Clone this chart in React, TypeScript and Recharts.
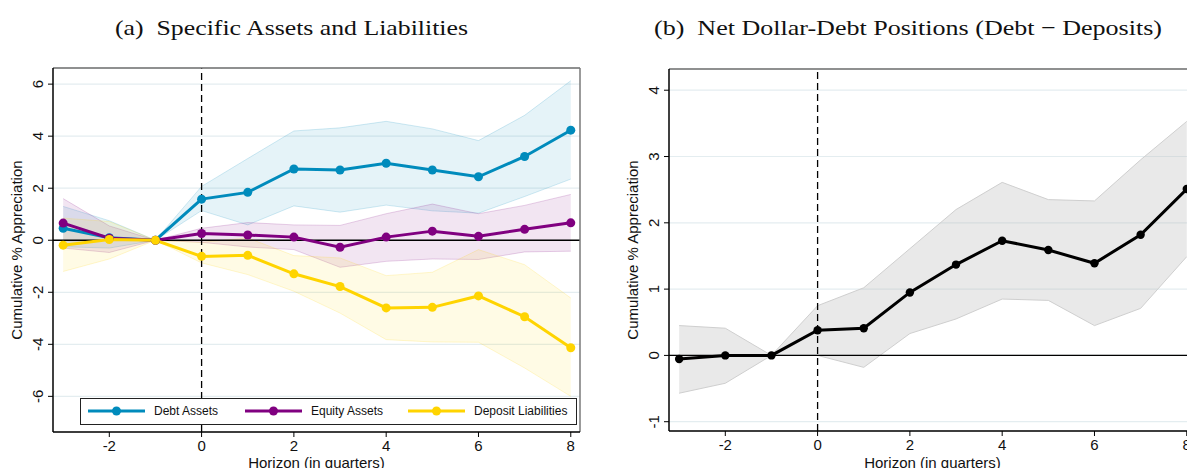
import {
  ComposedChart,
  Line,
  Area,
  XAxis,
  YAxis,
  CartesianGrid,
  ReferenceLine,
  Legend,
  Label,
} from "recharts";

// horizon in quarters, shared by both panels
const horizon = [-3, -2, -1, 0, 1, 2, 3, 4, 5, 6, 7, 8];

// panel (a): point estimates and 90% bands
const debtAssets = [0.46, 0.1, 0, 1.58, 1.84, 2.74, 2.7, 2.96, 2.7, 2.44, 3.22, 4.23];
const debtLo = [-0.25, -0.3, 0, 1.14, 0.59, 1.32, 1.08, 1.35, 1.13, 1.04, 1.68, 2.35];
const debtHi = [1.3, 0.75, 0, 2.07, 3.14, 4.2, 4.32, 4.57, 4.28, 3.83, 4.8, 6.13];

const equityAssets = [0.66, 0.08, 0, 0.26, 0.2, 0.12, -0.27, 0.12, 0.35, 0.15, 0.42, 0.67];
const equityLo = [-0.3, -0.47, 0, -0.08, -0.26, -0.36, -1.04, -0.81, -0.72, -0.74, -0.45, -0.42];
const equityHi = [1.6, 0.55, 0, 0.46, 0.68, 0.59, 0.57, 1.02, 1.39, 1.02, 1.34, 1.76];

const depositLiab = [-0.19, 0.03, 0, -0.62, -0.58, -1.29, -1.78, -2.6, -2.58, -2.14, -2.94, -4.13];
const depositLo = [-1.2, -0.72, 0, -0.87, -1.32, -1.96, -2.8, -3.82, -3.91, -3.92, -4.91, -6.0];
const depositHi = [0.85, 0.72, 0, -0.08, 0.09, -0.59, -0.68, -1.36, -1.23, -0.36, -0.94, -2.22];

// panel (b): net dollar-debt position
const netDebt = [-0.055, 0, 0, 0.38, 0.41, 0.95, 1.37, 1.73, 1.59, 1.39, 1.82, 2.51];
const netLo = [-0.57, -0.42, 0, 0.0, -0.18, 0.33, 0.55, 0.85, 0.83, 0.45, 0.71, 1.49];
const netHi = [0.45, 0.41, 0, 0.75, 1.02, 1.61, 2.2, 2.61, 2.35, 2.33, 2.95, 3.53];

const xTicks = [-2, 0, 2, 4, 6, 8];
const yTicksA = [-6, -4, -2, 0, 2, 4, 6];
const yTicksB = [-1, 0, 1, 2, 3, 4];

const X_DOMAIN: [number, number] = [-3.22, 8.2];
const Y_DOMAIN_A: [number, number] = [-7.37, 6.62];
const Y_DOMAIN_B: [number, number] = [-1.14, 4.32];

const SANS = "'Liberation Sans', Arial, sans-serif";
const SERIF = "'Liberation Serif', 'Times New Roman', serif";

const SERIES_A = [
  { key: "debt", name: "Debt Assets", color: "#008bbc" },
  { key: "equity", name: "Equity Assets", color: "#800080" },
  { key: "deposit", name: "Deposit Liabilities", color: "#ffd400" },
];

const dataA = horizon.map((h, i) => ({
  h,
  debt: debtAssets[i],
  debtBand: [debtLo[i], debtHi[i]],
  equity: equityAssets[i],
  equityBand: [equityLo[i], equityHi[i]],
  deposit: depositLiab[i],
  depositBand: [depositLo[i], depositHi[i]],
}));

const dataB = horizon.map((h, i) => ({
  h,
  net: netDebt[i],
  netBand: [netLo[i], netHi[i]],
}));

// stata-style y tick labels, turned on their side
function RotTick(props: any) {
  const { x, y, payload } = props;
  return (
    <text
      x={x}
      y={y}
      transform={`rotate(-90 ${x} ${y})`}
      textAnchor="middle"
      fontSize={15}
      fontFamily={SANS}
      fill="#111"
    >
      {payload.value}
    </text>
  );
}

function YTitle(props: any) {
  const { viewBox, value } = props;
  const x = viewBox.x + 22;
  const y = viewBox.y + viewBox.height / 2;
  return (
    <text
      x={x}
      y={y}
      transform={`rotate(-90 ${x} ${y})`}
      textAnchor="middle"
      fontSize={15}
      fontFamily={SANS}
      fill="#111"
    >
      {value}
    </text>
  );
}

function LegendBox() {
  const starts = [7, 164, 327];
  return (
    <div
      style={{
        position: "relative",
        width: 497,
        height: 27,
        boxSizing: "border-box",
        border: "1.5px solid #222",
        background: "#fff",
        fontFamily: SANS,
        fontSize: 12,
        color: "#111",
      }}
    >
      {SERIES_A.map((s, i) => (
        <div
          key={s.key}
          style={{
            position: "absolute",
            left: starts[i],
            top: 0,
            height: 24,
            display: "flex",
            alignItems: "center",
            whiteSpace: "nowrap",
          }}
        >
          <svg width={57} height={12} style={{ marginRight: 9 }}>
            <line x1={0} y1={6} x2={57} y2={6} stroke={s.color} strokeWidth={3} />
            <circle cx={28.5} cy={6} r={4.5} fill={s.color} />
          </svg>
          <span>{s.name}</span>
        </div>
      ))}
    </div>
  );
}

const axisProps = {
  axisLine: { stroke: "#000", strokeWidth: 1.5 },
  tickLine: { stroke: "#000", strokeWidth: 1 },
  tickSize: 5,
  interval: 0 as const,
  allowDataOverflow: true,
};

function PanelA() {
  return (
    <ComposedChart
      width={600}
      height={468}
      data={dataA}
      margin={{ top: 68, right: 20, bottom: 0, left: 0 }}
    >
      <CartesianGrid vertical={false} stroke="#e4edf0" strokeWidth={1.2} />
      <XAxis
        dataKey="h"
        type="number"
        domain={X_DOMAIN}
        ticks={xTicks}
        height={36}
        tickMargin={3}
        tick={{ fontSize: 15, fill: "#111", fontFamily: SANS }}
        {...axisProps}
      >
        <Label
          value="Horizon (in quarters)"
          position="insideBottom"
          offset={0}
          style={{ fontSize: 15, fill: "#111", fontFamily: SANS }}
        />
      </XAxis>
      <YAxis
        type="number"
        domain={Y_DOMAIN_A}
        ticks={yTicksA}
        width={53}
        tickMargin={5}
        tick={<RotTick />}
        {...axisProps}
      >
        <Label value="Cumulative % Appreciation" content={<YTitle />} />
      </YAxis>
      {SERIES_A.map((s) => (
        <Area
          key={s.key + "Band"}
          dataKey={s.key + "Band"}
          type="linear"
          fill={s.color}
          fillOpacity={0.1}
          stroke={s.color}
          strokeOpacity={0.18}
          strokeWidth={1}
          isAnimationActive={false}
          activeDot={false}
          legendType="none"
        />
      ))}
      <ReferenceLine y={0} stroke="#000" strokeWidth={1.3} />
      <ReferenceLine x={0} stroke="#000" strokeWidth={1.3} strokeDasharray="7 4" />
      <ReferenceLine y={Y_DOMAIN_A[1]} stroke="#6e6e6e" strokeWidth={1.5} />
      <ReferenceLine x={X_DOMAIN[1]} stroke="#7a7a7a" strokeWidth={1.5} />
      {SERIES_A.map((s) => (
        <Line
          key={s.key}
          dataKey={s.key}
          name={s.name}
          type="linear"
          stroke={s.color}
          strokeWidth={3}
          dot={{ r: 4.5, fill: s.color, stroke: s.color, strokeWidth: 0 }}
          activeDot={false}
          isAnimationActive={false}
        />
      ))}
      <Legend
        layout="horizontal"
        verticalAlign="middle"
        align="center"
        content={<LegendBox />}
        wrapperStyle={{ left: 80, top: 398, width: 497, height: 27 }}
      />
    </ComposedChart>
  );
}

function PanelB() {
  return (
    <ComposedChart
      width={600}
      height={468}
      data={dataB}
      margin={{ top: 69, right: 20, bottom: 0, left: 0 }}
    >
      <CartesianGrid vertical={false} stroke="#e4edf0" strokeWidth={1.2} />
      <XAxis
        dataKey="h"
        type="number"
        domain={X_DOMAIN}
        ticks={xTicks}
        height={37}
        tickMargin={3}
        tick={{ fontSize: 15, fill: "#111", fontFamily: SANS }}
        {...axisProps}
      >
        <Label
          value="Horizon (in quarters)"
          position="insideBottom"
          offset={0}
          style={{ fontSize: 15, fill: "#111", fontFamily: SANS }}
        />
      </XAxis>
      <YAxis
        type="number"
        domain={Y_DOMAIN_B}
        ticks={yTicksB}
        width={53}
        tickMargin={5}
        tick={<RotTick />}
        {...axisProps}
      >
        <Label value="Cumulative % Appreciation" content={<YTitle />} />
      </YAxis>
      <Area
        dataKey="netBand"
        type="linear"
        fill="#bdbdbd"
        fillOpacity={0.33}
        stroke="#cfcfcf"
        strokeWidth={1}
        isAnimationActive={false}
        activeDot={false}
      />
      <ReferenceLine y={0} stroke="#000" strokeWidth={1.3} />
      <ReferenceLine x={0} stroke="#000" strokeWidth={1.3} strokeDasharray="7 4" />
      <ReferenceLine y={Y_DOMAIN_B[1]} stroke="#6e6e6e" strokeWidth={1.5} />
      <Line
        dataKey="net"
        type="linear"
        stroke="#000"
        strokeWidth={3}
        dot={{ r: 4.2, fill: "#000", stroke: "#000", strokeWidth: 0 }}
        activeDot={false}
        isAnimationActive={false}
      />
    </ComposedChart>
  );
}

export default function App() {
  return (
    <div
      style={{
        position: "absolute",
        left: 0,
        top: 0,
        width: 1187,
        height: 468,
        overflow: "hidden",
        background: "#fff",
      }}
    >
      <svg
        width={1187}
        height={60}
        style={{ position: "absolute", left: 0, top: 0 }}
      >
        <text
          x={291.5}
          y={35}
          textAnchor="middle"
          fontFamily={SERIF}
          fontSize={22}
          fill="#111"
          textLength={353}
          lengthAdjust="spacingAndGlyphs"
          style={{ whiteSpace: "pre" }}
        >
          (a)  Specific Assets and Liabilities
        </text>
        <text
          x={908}
          y={35}
          textAnchor="middle"
          fontFamily={SERIF}
          fontSize={22}
          fill="#111"
          textLength={508}
          lengthAdjust="spacingAndGlyphs"
          style={{ whiteSpace: "pre" }}
        >
          (b)  Net Dollar-Debt Positions (Debt − Deposits)
        </text>
      </svg>
      <div style={{ position: "absolute", left: 0, top: 0 }}>
        <PanelA />
      </div>
      <div style={{ position: "absolute", left: 616, top: 0 }}>
        <PanelB />
      </div>
    </div>
  );
}
